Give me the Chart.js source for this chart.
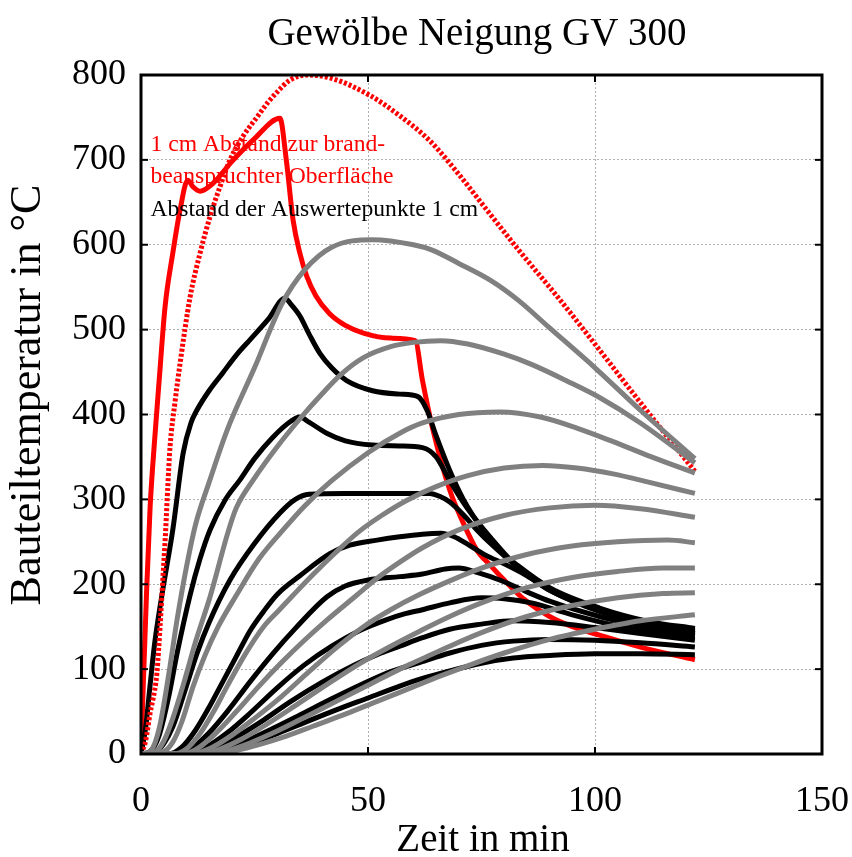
<!DOCTYPE html>
<html><head><meta charset="utf-8">
<script src="https://cdn.jsdelivr.net/npm/chart.js@4.4.1/dist/chart.umd.min.js"></script>
<style>html,body{margin:0;padding:0;background:#fff;}</style>
</head><body>
<canvas id="c" width="852" height="857"></canvas>
<script>
// ---------- texts ----------
const chartTitle = 'Gewölbe Neigung GV 300';
const xAxisTitle = 'Zeit in min';
const yAxisTitle = 'Bauteiltemperatur in °C';
const noteRed = ['1 cm Abstand zur brand-', 'beanspruchter Oberfläche'];
const noteBlack = 'Abstand der Auswertepunkte 1 cm';
const xTickValues = [0, 50, 100, 150];
const yTickValues = [0, 100, 200, 300, 400, 500, 600, 700, 800];

// ---------- red curves ----------
const redTime = [0, 0.5, 1.2, 2, 3, 4, 5.3, 7, 8.6, 10.3, 11.5, 13, 15.8, 20, 25, 30.6, 32, 33.5, 35, 36.5, 38.5, 41.5, 45, 49, 55, 60.4, 62, 64.3, 68, 71, 74, 77, 80, 84, 90, 95, 101, 110, 122];
const redTemp = [0, 81, 187, 290, 370, 440, 527, 590, 641, 676, 668, 663, 672, 698, 725, 749, 700, 629, 590, 563, 540, 519, 505, 496, 490, 487, 440, 382, 311, 272, 240, 222, 205, 184, 162, 150, 140, 126, 111];
const dotTime = [0, 1, 2, 3, 3.5, 4.2, 4.8, 5.4, 5.9, 6.4, 7.5, 8.6, 10.8, 13, 15.2, 17.5, 19.6, 22.5, 25.5, 28, 30, 32.8, 36.5, 42, 50.4, 57, 63.7, 70, 75, 83, 92.3, 101, 110, 122];
const dotTemp = [0, 15, 48, 75, 95, 150, 205, 260, 315, 362, 415, 460, 538, 590, 633, 670, 700, 728, 750, 768, 780, 794, 800, 796, 776, 752, 722, 683, 649, 595, 535, 476, 414, 333];

// ---------- black curves ----------
const b1Time = [0, 1, 2, 3, 4.6, 7, 9.3, 11, 12.3, 15, 18, 21, 24, 28, 31.7, 33, 35, 37, 39.4, 42, 45.3, 51, 57, 61, 63, 65, 68, 71, 75.3, 79, 83, 90, 101, 112, 122];
const b1Temp = [0, 30, 81, 130, 187, 264, 355, 390, 405, 428, 449, 470, 488, 512, 537, 530, 516, 495, 472, 455, 440, 428, 424, 421, 405, 375, 334, 300, 264, 240, 222, 196, 172, 156, 148];
const b2Time = [0, 2, 4, 6, 8, 10.8, 13, 15.2, 18.5, 21.8, 25, 29, 33, 35, 37, 40.9, 45, 51, 57, 62, 65, 68, 71.8, 77, 83, 90, 101, 112, 122];
const b2Temp = [0, 3, 22, 65, 120, 187, 230, 264, 299, 323, 348, 373, 392, 397, 391, 378, 369, 364, 363, 361, 350, 322, 290, 255, 220, 194, 170, 154, 146];
const b3Time = [0, 3, 5, 7, 10, 12.3, 15, 19.6, 25, 30.6, 34, 37, 45, 55, 63.6, 66, 68, 71, 74, 77, 83, 90, 101, 112, 122];
const b3Temp = [0, 2, 12, 32, 80, 118, 155, 205, 248, 284, 300, 306, 307, 307, 307, 303, 297, 282, 264, 248, 220, 193, 169, 153, 144];
const b4Time = [0, 6, 9, 12, 15, 18, 21, 24, 27, 30, 35, 41.6, 46, 52, 57, 62, 66, 69, 72, 76, 80, 85, 90, 101, 112, 122];
const b4Temp = [0, 0, 8, 28, 55, 85, 115, 145, 168, 188, 210, 236, 246, 252, 256, 259, 260, 256, 247, 234, 224, 210, 193, 168, 152, 142];
const b5Time = [0, 8, 11, 15, 19, 24, 29, 34, 40.9, 45, 50, 57, 62, 67, 70, 74, 79, 85, 90, 101, 112, 122];
const b5Temp = [0, 0, 6, 25, 50, 85, 118, 148, 185, 198, 205, 209, 212, 218, 219, 214, 205, 191, 180, 162, 149, 140];
const b6Time = [0, 10, 14, 19, 24, 30, 36, 42, 48, 54, 58, 62, 68, 75, 80, 86, 95, 105, 114, 122];
const b6Temp = [0, 0, 7, 25, 48, 78, 105, 127, 145, 158, 165, 170, 178, 184, 183, 178, 164, 151, 143, 138];
const b7Time = [0, 12, 16, 21, 27, 33, 40, 47, 52, 57, 62, 68, 75, 82, 90, 100, 110, 122];
const b7Temp = [0, 0, 6, 20, 40, 62, 85, 105, 117, 127, 137, 147, 153, 157, 155, 149, 142, 134];
const b8Time = [0, 14, 18, 23, 29, 35, 42, 49, 55, 61.5, 68, 75, 82, 90, 100, 110, 122];
const b8Temp = [0, 0, 5, 15, 30, 46, 65, 83, 97, 108, 119, 128, 133, 135, 134, 131, 126];
const b9Time = [0, 16, 20, 25, 30, 36, 43, 50, 57, 62, 68, 75, 82, 90, 100, 110, 122];
const b9Temp = [0, 0, 5, 14, 24, 37, 52, 66, 80, 89, 98, 107, 113, 116, 118, 118, 117];

// ---------- grey curves ----------
const g1Time = [0, 2, 4, 6, 8, 10, 12, 15, 19, 25, 31, 36, 42, 51, 60, 64, 70, 77, 83, 90, 100, 110, 122];
const g1Temp = [0, 3, 30, 90, 160, 220, 270, 320, 382, 455, 530, 570, 597, 606, 600, 594, 578, 558, 535, 502, 455, 405, 348];
const g2Time = [0, 3, 5, 7, 9.5, 12, 15.2, 19.2, 21, 25, 30, 35, 40, 44, 49, 55, 60, 66, 72, 80, 86, 94, 101, 110, 122];
const g2Temp = [0, 2, 15, 42, 85, 132, 185, 262, 290, 325, 362, 395, 425, 447, 467, 480, 485, 487, 483, 471, 459, 439, 420, 390, 343];
const g3Time = [0, 5, 7, 9, 11.5, 14, 17, 21, 26, 31.3, 36, 42, 50, 57, 62, 70, 79, 88, 96, 104, 112, 122];
const g3Temp = [0, 3, 14, 38, 80, 115, 150, 187, 230, 264, 292, 322, 355, 378, 390, 400, 403, 397, 384, 368, 351, 331];
const g4Time = [0, 7, 10, 13, 16, 19, 23, 27, 30.5, 33.5, 38, 43, 48, 53, 58.6, 65, 72, 80, 88.5, 96, 104, 112, 122];
const g4Temp = [0, 0, 6, 24, 50, 80, 118, 150, 170, 187, 212, 238, 262, 281, 299, 315, 328, 337, 340, 337, 330, 320, 307];
const g5Time = [0, 9, 12, 16, 21, 26, 31, 36, 41, 47.5, 52, 57, 62, 70, 80, 90, 100, 110, 122];
const g5Temp = [0, 0, 5, 22, 50, 80, 108, 134, 158, 187, 207, 226, 243, 264, 281, 290, 293, 289, 279];
const g6Time = [0, 11, 15, 20, 25, 31, 37, 43, 49, 55, 61, 68, 75, 85, 95, 105, 116, 122];
const g6Temp = [0, 0, 6, 22, 42, 68, 97, 125, 150, 170, 187, 204, 219, 235, 245, 250, 252, 249];
const g7Time = [0, 13, 17, 22, 28, 34, 41, 48, 55, 61.5, 68, 75, 85, 95, 105, 115, 122];
const g7Temp = [0, 0, 5, 17, 36, 57, 82, 106, 127, 145, 162, 178, 196, 208, 215, 219, 219];
const g8Time = [0, 15, 19, 24, 30, 36, 43, 50, 57, 61.5, 68, 75, 85, 95, 105, 115, 122];
const g8Temp = [0, 0, 4, 13, 27, 43, 62, 81, 100, 111, 127, 143, 162, 175, 184, 189, 190];
const g9Time = [0, 17, 21, 26, 32, 38, 45, 52, 59, 66, 73, 80, 90, 100, 110, 122];
const g9Temp = [0, 0, 4, 11, 21, 33, 47, 62, 77, 92, 106, 119, 135, 147, 157, 164];

// ---------- build ----------
function pts(t, v) { return t.map((x, i) => ({ x: x, y: v[i] })); }
function line(label, t, v, color, order, extra) {
  return Object.assign({
    label: label, data: pts(t, v), borderColor: color, backgroundColor: color,
    borderWidth: 5, pointRadius: 0, fill: false, cubicInterpolationMode: 'monotone',
    borderJoinStyle: 'round', borderCapStyle: 'butt', order: order
  }, extra || {});
}
const BLACK = '#000000', GREY = '#808080', RED = '#ff0000';
const blacks = [[b1Time,b1Temp],[b2Time,b2Temp],[b3Time,b3Temp],[b4Time,b4Temp],[b5Time,b5Temp],[b6Time,b6Temp],[b7Time,b7Temp],[b8Time,b8Temp],[b9Time,b9Temp]];
const greys = [[g1Time,g1Temp],[g2Time,g2Temp],[g3Time,g3Temp],[g4Time,g4Temp],[g5Time,g5Temp],[g6Time,g6Temp],[g7Time,g7Temp],[g8Time,g8Temp],[g9Time,g9Temp]];
const datasets = [];
greys.forEach((s, i) => datasets.push(line('grau ' + (i + 1), s[0], s[1], GREY, 1)));
datasets.push(line('rot gepunktet', dotTime, dotTemp, RED, 2, { borderDash: [3, 2] }));
blacks.forEach((s, i) => datasets.push(line('schwarz ' + (i + 1), s[0], s[1], BLACK, 3)));
datasets.push(line('rot', redTime, redTemp, RED, 4));

const FONT = "'Liberation Serif', 'Times New Roman', serif";

const deco = {
  id: 'deco',
  beforeDraw(chart) {
    const c = chart.ctx;
    c.save(); c.fillStyle = '#fff'; c.fillRect(0, 0, chart.width, chart.height); c.restore();
  },
  afterDraw(chart) {
    const c = chart.ctx, a = chart.chartArea, xs = chart.scales.x, ys = chart.scales.y;
    c.save();
    // frame
    c.strokeStyle = '#000'; c.lineWidth = 3;
    c.strokeRect(a.left, a.top, a.right - a.left, a.bottom - a.top);
    // inward ticks
    c.lineWidth = 2;
    const tl = 7;
    xTickValues.forEach(v => {
      const px = xs.getPixelForValue(v);
      c.beginPath(); c.moveTo(px, a.bottom); c.lineTo(px, a.bottom - tl); c.stroke();
      c.beginPath(); c.moveTo(px, a.top); c.lineTo(px, a.top + tl); c.stroke();
    });
    yTickValues.forEach(v => {
      const py = ys.getPixelForValue(v);
      c.beginPath(); c.moveTo(a.left, py); c.lineTo(a.left + tl, py); c.stroke();
      c.beginPath(); c.moveTo(a.right, py); c.lineTo(a.right - tl, py); c.stroke();
    });
    c.fillStyle = '#000';
    c.textBaseline = 'alphabetic';
    // x tick labels
    c.textAlign = 'center';
    c.font = '36px ' + FONT;
    xTickValues.forEach(v => c.fillText(String(v), xs.getPixelForValue(v), a.bottom + 57));
    // title
    c.font = '39px ' + FONT;
    c.fillText(chartTitle, 477, 45);
    // x axis title
    c.font = '39px ' + FONT;
    c.fillText(xAxisTitle, 483, 851);
    // y axis title
    c.save();
    c.translate(40, 395); c.rotate(-Math.PI / 2);
    c.font = '44px ' + FONT;
    c.fillText(yAxisTitle, 0, 0);
    c.restore();
    // notes (anchored in data units)
    c.textAlign = 'left';
    c.font = '23.6px ' + FONT;
    c.fillStyle = RED;
    c.fillText(noteRed[0], xs.getPixelForValue(2.1), ys.getPixelForValue(711));
    c.fillText(noteRed[1], xs.getPixelForValue(2.1), ys.getPixelForValue(673));
    c.fillStyle = '#000';
    c.fillText(noteBlack, xs.getPixelForValue(2.1), ys.getPixelForValue(634));
    c.restore();
  }
};

new Chart(document.getElementById('c'), {
  type: 'line',
  data: { datasets: datasets },
  options: {
    responsive: false, animation: false, devicePixelRatio: 1,
    layout: { autoPadding: false, padding: { left: 0, right: 30, top: 75, bottom: 0 } },
    plugins: { legend: { display: false }, title: { display: false }, tooltip: { enabled: false } },
    scales: {
      x: {
        type: 'linear', min: 0, max: 150,
        afterFit(s) { s.height = 103; s.paddingLeft = 0; s.paddingRight = 0; },
        afterBuildTicks(s) { s.ticks = xTickValues.map(v => ({ value: v })); },
        ticks: { display: false },
        grid: { color: '#b0b0b0', lineWidth: 1, drawTicks: false },
        border: { display: false, dash: [2, 2] }
      },
      y: {
        type: 'linear', min: 0, max: 800,
        afterFit(s) { s.width = 141; s.paddingTop = 0; s.paddingBottom = 0; },
        afterBuildTicks(s) { s.ticks = yTickValues.map(v => ({ value: v })); },
        ticks: { color: '#000', font: { family: FONT, size: 36 }, padding: 15 },
        grid: { color: '#b0b0b0', lineWidth: 1, drawTicks: false },
        border: { display: false, dash: [2, 2] }
      }
    }
  },
  plugins: [deco]
});
</script>
</body></html>
